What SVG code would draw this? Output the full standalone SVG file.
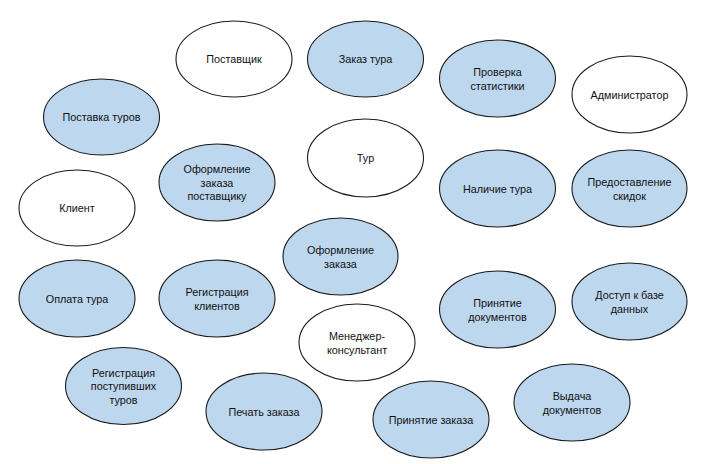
<svg xmlns="http://www.w3.org/2000/svg" width="709" height="464" viewBox="0 0 709 464">
<style>
ellipse{stroke:#1a1a1a;stroke-width:1.1}
.b{fill:#bdd7ee}
.w{fill:#ffffff}
text{font-family:"Liberation Sans",Arial,sans-serif;font-size:10.8px;fill:#111;text-anchor:middle}
</style>
<rect width="709" height="464" fill="#fff"/>
<g id="connectors"/>
<g id="postavshik"><ellipse class="w" cx="234" cy="59" rx="58" ry="38"/><text x="234" y="63">Поставщик</text></g>
<g id="zakaz-tura"><ellipse class="b" cx="365.5" cy="59" rx="58" ry="38"/><text x="365.5" y="63">Заказ тура</text></g>
<g id="proverka"><ellipse class="b" cx="497.5" cy="78.5" rx="58" ry="38.5"/><text x="497.5" y="76">Проверка</text><text x="497.5" y="89.5">статистики</text></g>
<g id="admin"><ellipse class="w" cx="629.5" cy="94.5" rx="57.5" ry="38.5"/><text x="629.5" y="98.5">Администратор</text></g>
<g id="postavka"><ellipse class="b" cx="101.5" cy="117" rx="58" ry="38"/><text x="101.5" y="121">Поставка туров</text></g>
<g id="tur"><ellipse class="w" cx="365.5" cy="158" rx="58" ry="39"/><text x="365.5" y="162">Тур</text></g>
<g id="oformlenie-post"><ellipse class="b" cx="217" cy="182.5" rx="58" ry="38.5"/><text x="217" y="173">Оформление</text><text x="217" y="186.5">заказа</text><text x="217" y="200">поставщику</text></g>
<g id="nalichie"><ellipse class="b" cx="497.5" cy="188.5" rx="58" ry="38.5"/><text x="497.5" y="192.5">Наличие тура</text></g>
<g id="skidki"><ellipse class="b" cx="629.5" cy="188.5" rx="57.5" ry="38.5"/><text x="629.5" y="186">Предоставление</text><text x="629.5" y="199.5">скидок</text></g>
<g id="klient"><ellipse class="w" cx="77" cy="208" rx="58" ry="38"/><text x="77" y="212">Клиент</text></g>
<g id="oformlenie-zakaza"><ellipse class="b" cx="340.5" cy="256.5" rx="57.5" ry="38.5"/><text x="340.5" y="254">Оформление</text><text x="340.5" y="267.5">заказа</text></g>
<g id="oplata"><ellipse class="b" cx="77" cy="298.5" rx="58" ry="38.5"/><text x="77" y="302.5">Оплата тура</text></g>
<g id="reg-klientov"><ellipse class="b" cx="217" cy="298.5" rx="58" ry="38.5"/><text x="217" y="296">Регистрация</text><text x="217" y="309.5">клиентов</text></g>
<g id="dostup"><ellipse class="b" cx="629.5" cy="301.5" rx="57.5" ry="38.5"/><text x="629.5" y="299">Доступ к базе</text><text x="629.5" y="312.5">данных</text></g>
<g id="prinyatie-doc"><ellipse class="b" cx="497.5" cy="309.5" rx="58" ry="38.5"/><text x="497.5" y="307">Принятие</text><text x="497.5" y="320.5">документов</text></g>
<g id="manager"><ellipse class="w" cx="357" cy="342.5" rx="58" ry="38.5"/><text x="357" y="340">Менеджер-</text><text x="357" y="353.5">консультант</text></g>
<g id="reg-turov"><ellipse class="b" cx="123.5" cy="386" rx="58" ry="38.5"/><text x="123.5" y="376.5">Регистрация</text><text x="123.5" y="390">поступивших</text><text x="123.5" y="403.5">туров</text></g>
<g id="vydacha"><ellipse class="b" cx="572" cy="402.5" rx="58" ry="38.5"/><text x="572" y="400">Выдача</text><text x="572" y="413.5">документов</text></g>
<g id="pechat"><ellipse class="b" cx="264" cy="411.5" rx="58" ry="38.5"/><text x="264" y="415.5">Печать заказа</text></g>
<g id="prinyatie-zakaza"><ellipse class="b" cx="431" cy="419.5" rx="58" ry="38.5"/><text x="431" y="423.5">Принятие заказа</text></g>
</svg>
